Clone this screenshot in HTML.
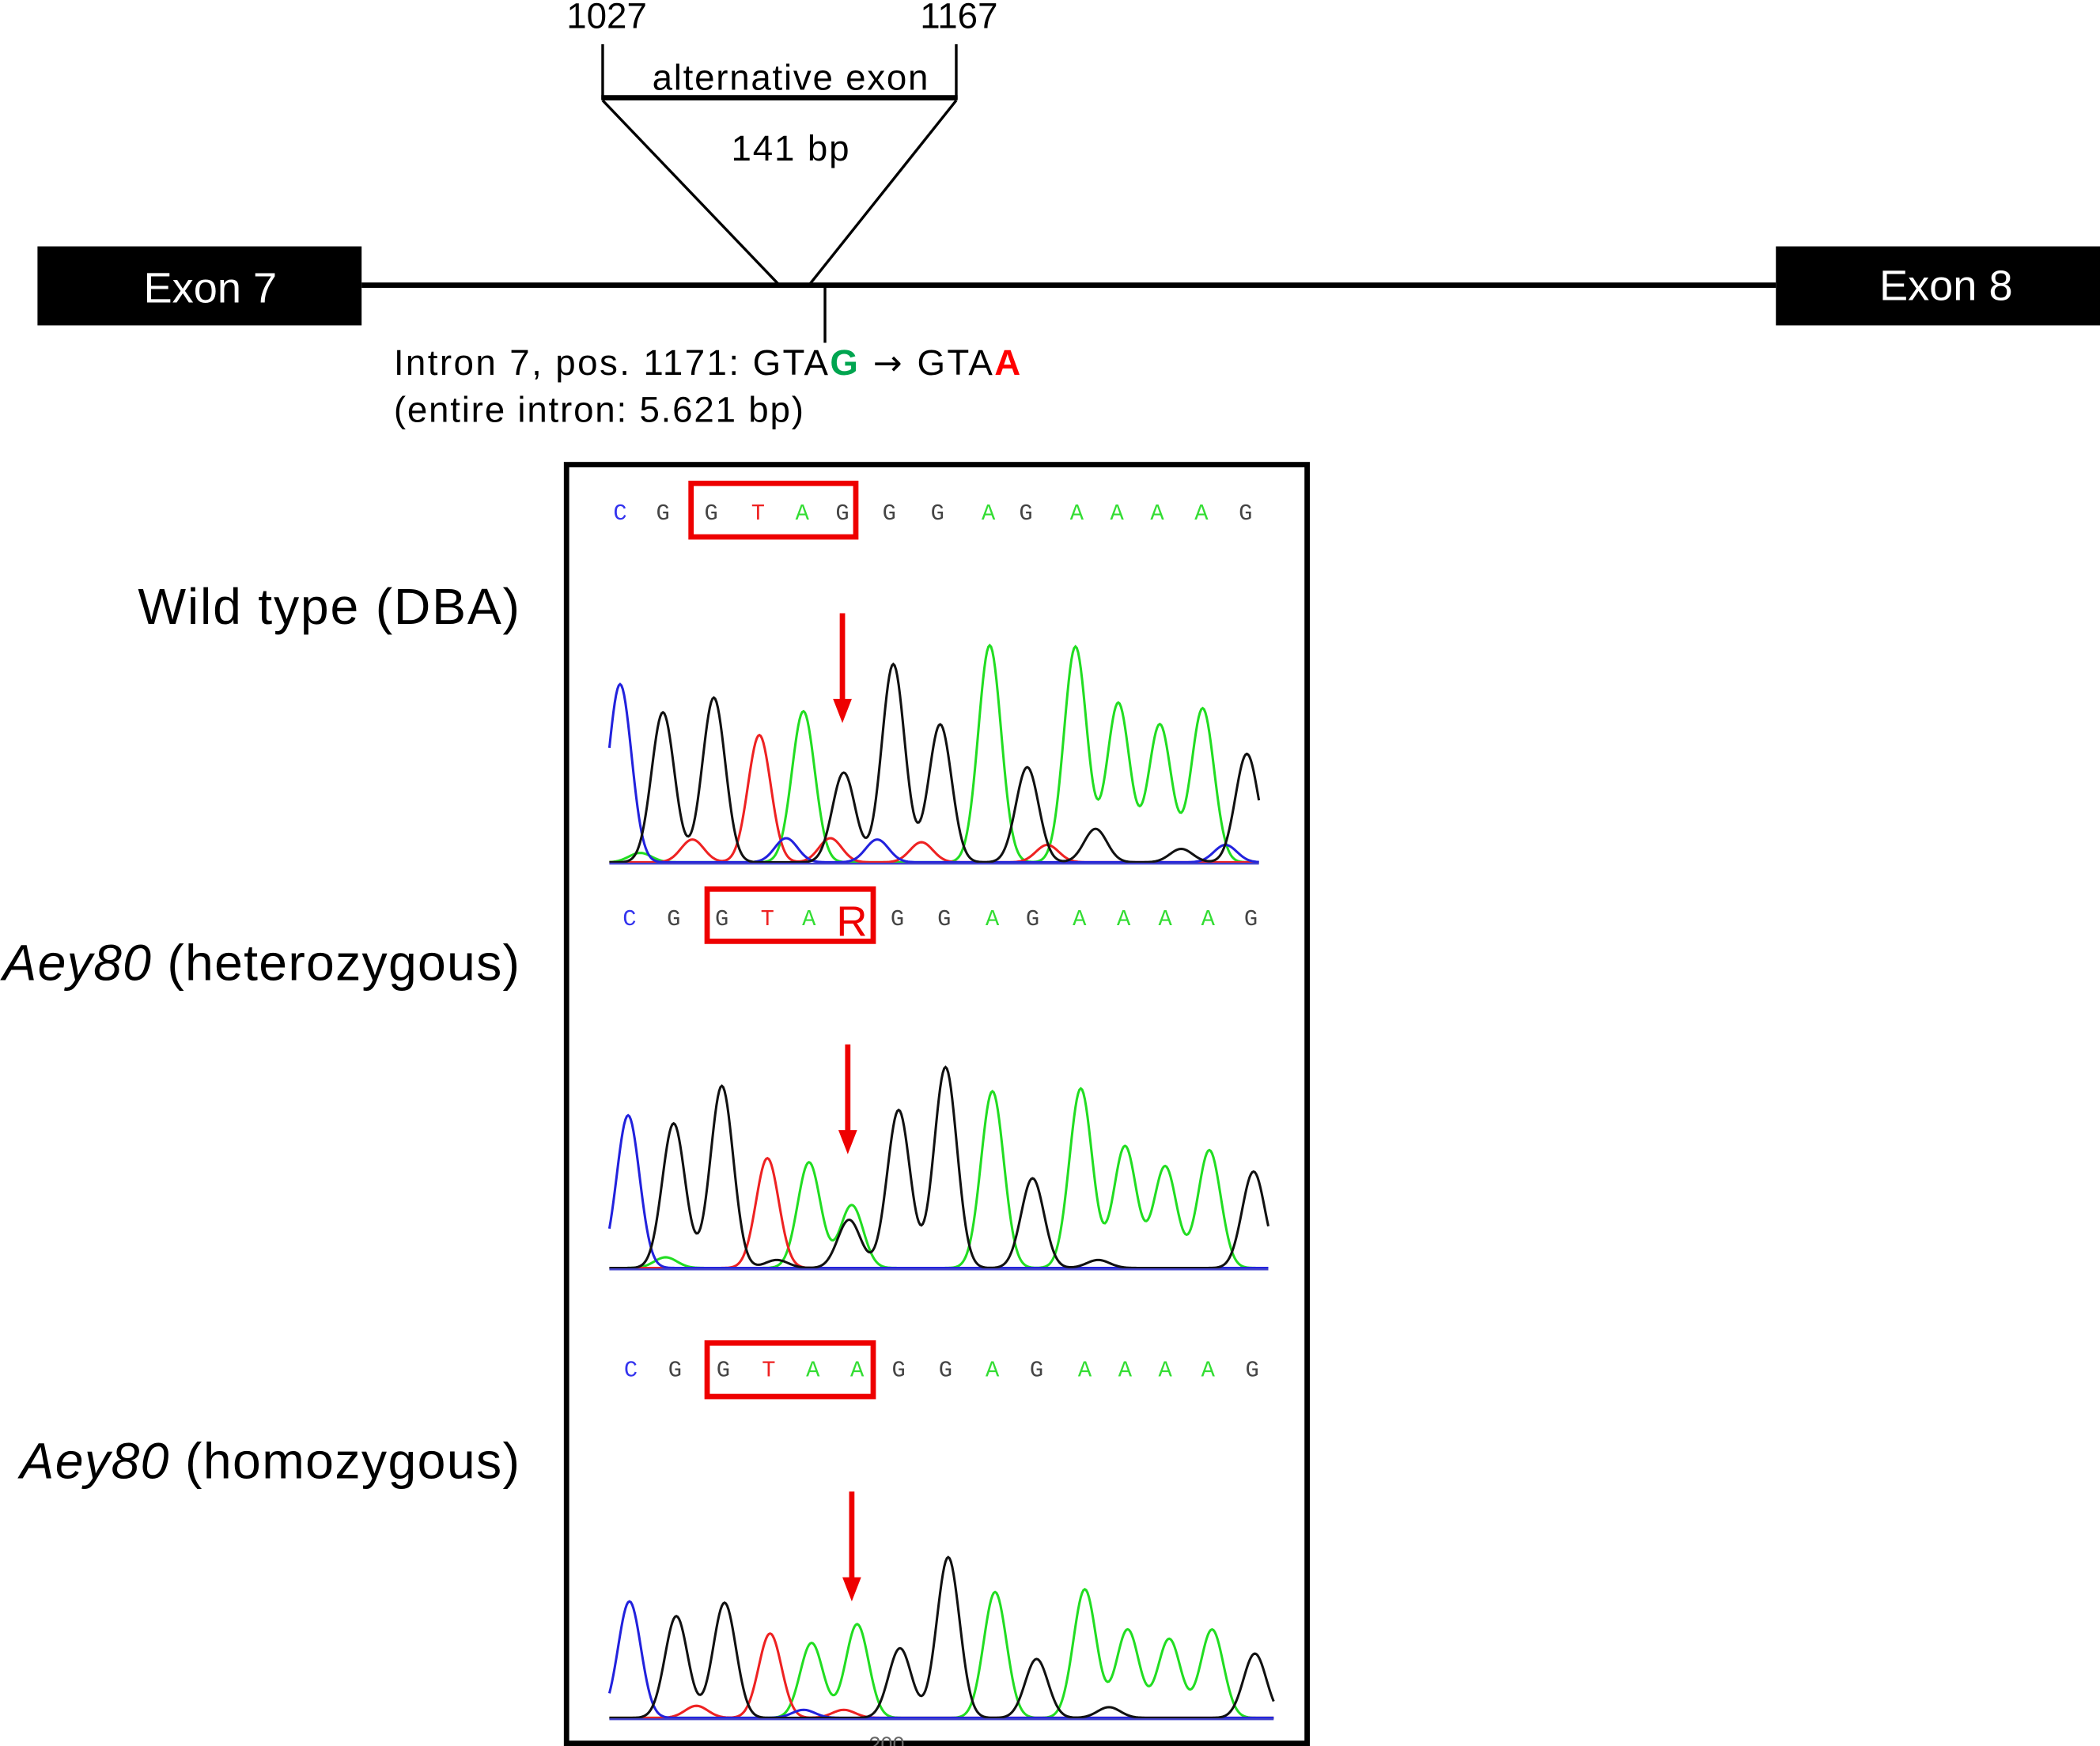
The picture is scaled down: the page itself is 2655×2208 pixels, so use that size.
<!DOCTYPE html>
<html><head><meta charset="utf-8"><style>
html,body{margin:0;padding:0;background:#fff}
svg{display:block}
text{font-family:"Liberation Sans",sans-serif}
.lbl{font-family:"Liberation Sans",sans-serif;font-size:38px}
.base{font-family:"Liberation Mono",monospace;font-size:17px}
</style></head><body>
<svg id="fig" width="2655" height="2208" viewBox="0 0 1568 1304" xmlns="http://www.w3.org/2000/svg">
<g>
<line x1="270" y1="213" x2="1326" y2="213" stroke="#000" stroke-width="4"/>
<rect x="28" y="184" width="242" height="59" fill="#000"/>
<text x="157" y="226" font-size="32" fill="#fff" text-anchor="middle">Exon 7</text>
<rect x="1326" y="184" width="242" height="59" fill="#000"/>
<text x="1453" y="224" font-size="32" fill="#fff" text-anchor="middle">Exon 8</text>
<line x1="450" y1="33" x2="450" y2="74" stroke="#000" stroke-width="2"/>
<line x1="714" y1="33" x2="714" y2="74" stroke="#000" stroke-width="2"/>
<line x1="449" y1="73" x2="715" y2="73" stroke="#000" stroke-width="4"/>
<line x1="450" y1="75" x2="582" y2="213" stroke="#000" stroke-width="2"/>
<line x1="714" y1="75" x2="604" y2="213" stroke="#000" stroke-width="2"/>
<line x1="616" y1="213" x2="616" y2="256" stroke="#000" stroke-width="2"/>
<text x="453" y="21" font-size="27" text-anchor="middle">1027</text>
<text x="716" y="21" font-size="27" text-anchor="middle">1167</text>
<text x="590" y="67" font-size="27" text-anchor="middle" textLength="206">alternative exon</text>
<text x="590" y="120" font-size="27" text-anchor="middle" textLength="88">141 bp</text>
<text x="294" y="280" font-size="27" textLength="468">Intron 7, pos. 1171: GTA<tspan fill="#00a550" font-weight="bold">G</tspan><tspan font-family="DejaVu Sans" font-size="26"> → </tspan>GTA<tspan fill="#f00" font-weight="bold">A</tspan></text>
<text x="294" y="315" font-size="27" textLength="306">(entire intron: 5.621 bp)</text>
</g>
<text class="lbl" x="103" y="466" textLength="285">Wild type (DBA)</text>
<text class="lbl" x="2" y="732" textLength="386"><tspan font-style="italic">Aey80</tspan> (heterozygous)</text>
<text class="lbl" x="15" y="1104" textLength="373"><tspan font-style="italic">Aey80</tspan> (homozygous)</text>
<rect x="423" y="347" width="553" height="955" fill="none" stroke="#000" stroke-width="4"/>
<text x="662" y="1308" font-size="16" fill="#666" text-anchor="middle">200</text>
<g id="panels"></g>
</svg>
<script>
// base calls
const seq1 = ["C","G","G","T","A","G","G","G","A","G","A","A","A","A","G"];
const seq2 = ["C","G","G","T","A","R","G","G","A","G","A","A","A","A","G"];
const seq3 = ["C","G","G","T","A","A","G","G","A","G","A","A","A","A","G"];
const basePos1 = [463,495,531,566,599,629,664,700,738,766,804,834,864,897,930];
const basePos2 = [470,503,539,573,604,636,670,705,741,771,806,839,870,902,934];
const basePos3 = [471,504,540,574,607,640,671,706,741,774,810,840,870,902,935];
// peaks: scan position, color channel, height
const peakX1 = [463,495,533,567,600,630,667,702,739,767,803,835,866,898,931,517,587,620,655,688,782,818,882,915,478,598];
const peakC1 = ["C","G","G","T","A","G","G","G","A","G","A","A","A","A","G","T","C","T","C","T","T","G","G","C","A","A"];
const peakH1 = [133,112,123,95,105,67,148,103,162,71,161,119,103,115,81,17,18,18,17,15,13,25,10,13,7,8];
const peakX2 = [469,503,539,573,604,636,634,671,706,741,771,807,840,870,903,936,497,580,605,820];
const peakC2 = ["C","G","G","T","A","A","G","G","G","A","G","A","A","A","A","G","A","G","A","G"];
const peakH2 = [114,108,136,82,73,47,36,118,150,132,67,134,91,76,88,72,8,6,6,6];
const peakX3 = [470,505,541,575,606,640,672,708,743,774,810,842,873,905,937,520,600,630,828];
const peakC3 = ["C","G","G","T","A","A","G","G","A","G","A","A","A","A","G","T","C","T","G"];
const peakH3 = [87,76,86,63,56,70,52,120,94,44,96,66,59,66,48,9,6,6,8];

const colors = {A:"#22dd22",C:"#2222dd",G:"#111111",T:"#ee2222"};
const letterColors = {A:"#33dd33",C:"#3333ee",G:"#444444",T:"#ee2222"};
const panels = [
 {seq:seq1,pos:basePos1,px:peakX1,pc:peakC1,ph:peakH1,seqY:388,base:645,x0:455,x1:940,box:[516,361,123,40],arrow:[629,458,540]},
 {seq:seq2,pos:basePos2,px:peakX2,pc:peakC2,ph:peakH2,seqY:691,base:948,x0:455,x1:947,box:[528,664,124,39],arrow:[633,780,862]},
 {seq:seq3,pos:basePos3,px:peakX3,pc:peakC3,ph:peakH3,seqY:1028,base:1284,x0:455,x1:951,box:[528,1003,124,40],arrow:[636,1114,1196]}
];
const NS="http://www.w3.org/2000/svg";
const root=document.getElementById('panels');
function mk(t,a){const e=document.createElementNS(NS,t);for(const k in a)e.setAttribute(k,a[k]);return e;}
const sigma=8.5;
panels.forEach((p,pi)=>{
  const g=mk('g',{});
  
  
  root.appendChild(g);
  p.seq.forEach((b,i)=>{
    const isR=b==="R";
    const t=mk('text',{x:p.pos[i],y:isR?p.seqY+8:p.seqY,'text-anchor':'middle',fill:isR?"#ee0000":letterColors[b]});
    t.setAttribute('class',isR?'':'base');
    if(isR){t.setAttribute('font-size','32');}
    
    
    t.textContent=b;g.appendChild(t);
  });
  const bx=mk('rect',{x:p.box[0],y:p.box[1],width:p.box[2],height:p.box[3],fill:'none',stroke:'#ee0000','stroke-width':4});
  
  
  g.appendChild(bx);
  ["A","T","C","G"].forEach(ch=>{
    let d="";
    for(let x=p.x0;x<=p.x1;x+=1){
      let y=0;
      p.px.forEach((px,k)=>{if(p.pc[k]===ch){const dx=(x-px)/sigma;y+=p.ph[k]*Math.exp(-0.5*dx*dx);}});
      d+=(x===p.x0?"M":"L")+x+","+(p.base-y-1).toFixed(2);
    }
    const path=mk('path',{d:d,fill:'none',stroke:colors[ch],'stroke-width':1.8});
    
    
    g.appendChild(path);
  });
  const bl=mk('line',{x1:p.x0,y1:p.base,x2:p.x1,y2:p.base,stroke:'#4444cc','stroke-width':1.5});
  
  
  g.appendChild(bl);
  const [ax,ay0,ay1]=p.arrow;
  const ar=mk('path',{d:`M${ax-2},${ay0} h4 V${ay1-18} h5 L${ax},${ay1} L${ax-7},${ay1-18} h5 Z`,fill:'#ee0000'});
  
  
  g.appendChild(ar);
});
</script>
</body></html>
